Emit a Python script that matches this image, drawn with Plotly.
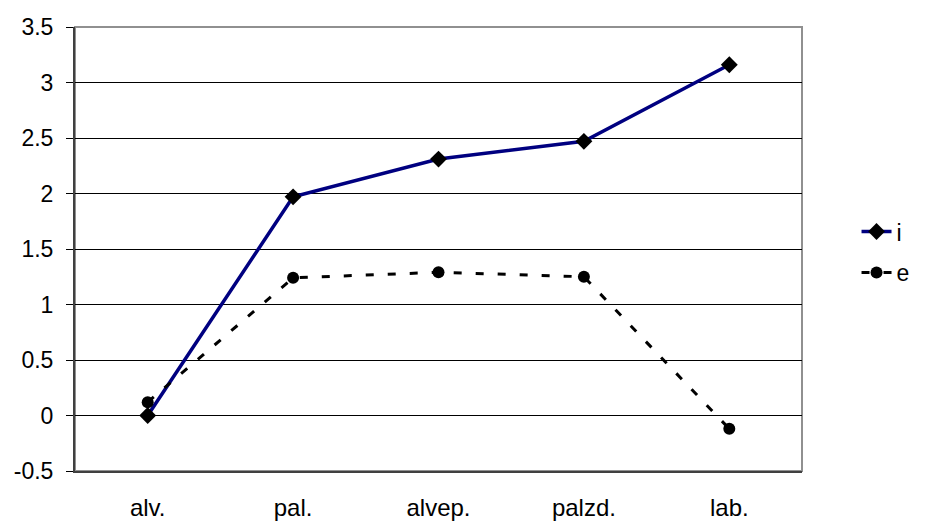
import plotly.graph_objects as go

categories = ["alv.", "pal.", "alvep.", "palzd.", "lab."]
i_values = [0.0, 1.97, 2.31, 2.47, 3.16]
e_values = [0.12, 1.24, 1.29, 1.25, -0.12]
y_ticks = [-0.5, 0, 0.5, 1, 1.5, 2, 2.5, 3, 3.5]
y_labels = ["-0.5", "0", "0.5", "1", "1.5", "2", "2.5", "3", "3.5"]

fig = go.Figure()
fig.add_trace(go.Scatter(
    x=categories, y=i_values, name="i", mode="lines+markers", legendgroup="i",
    line=dict(color="#000080", width=3.5),
    marker=dict(symbol="diamond", size=13, color="black"),
))
fig.add_trace(go.Scatter(
    x=categories, y=e_values, name="e", mode="lines+markers", legendgroup="e",
    line=dict(color="black", width=3, dash="8px,14px"),
    marker=dict(symbol="circle", size=12, color="black"),
))

fig.update_layout(
    width=938, height=522,
    margin=dict(l=75, r=136, t=27, b=51),
    paper_bgcolor="white", plot_bgcolor="white",
    font=dict(family="Liberation Sans, Arial, sans-serif", size=23, color="black"),
    showlegend=True,
    legend=dict(x=1.075, y=0.493, xanchor="left", yanchor="middle",
                font=dict(size=23), tracegroupgap=8,
                bgcolor="rgba(0,0,0,0)"),
    xaxis=dict(
        type="category", range=[-0.5, 4.5], showgrid=False,
        showline=True, linecolor="#404040", linewidth=2,
        ticks="", mirror=False, zeroline=False, automargin=False,
        ticklabelstandoff=14, tickfont=dict(size=24),
    ),
    yaxis=dict(
        range=[-0.5, 3.5], tickvals=y_ticks, ticktext=y_labels,
        showgrid=True, gridcolor="black", gridwidth=1,
        zeroline=True, zerolinecolor="black", zerolinewidth=1,
        showline=True, linecolor="#404040", linewidth=2,
        ticks="outside", ticklen=7, tickcolor="black", automargin=False,
        ticklabelstandoff=8,
    ),
    shapes=[dict(type="rect", xref="paper", yref="paper", x0=0, y0=0, x1=1, y1=1,
                 line=dict(color="#909090", width=2), layer="below")],
)

fig.write_html("out.html", config={"displayModeBar": False},
               post_script="document.body.style.margin='0';")
